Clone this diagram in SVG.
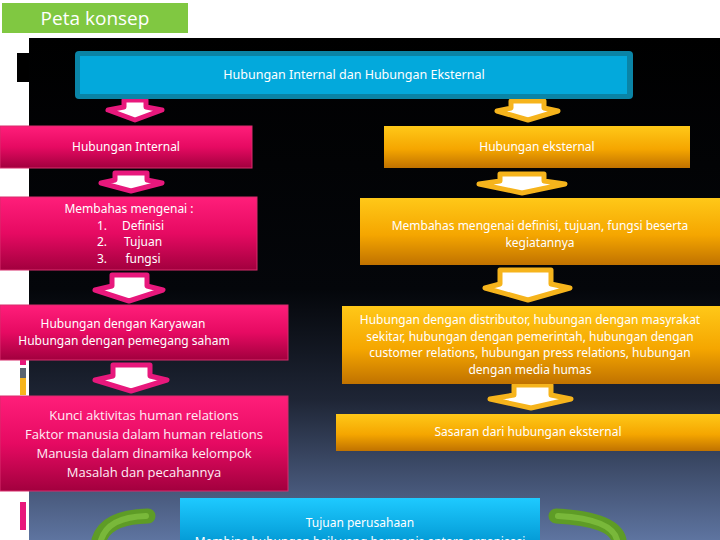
<svg xmlns="http://www.w3.org/2000/svg" width="720" height="540" viewBox="0 0 720 540">
<defs>
<linearGradient id="bg" x1="0" y1="0" x2="0" y2="1">
<stop offset="0" stop-color="#000000"/>
<stop offset="0.5" stop-color="#04060a"/>
<stop offset="0.72" stop-color="#1e2535"/>
<stop offset="1" stop-color="#5e74a0"/>
</linearGradient>
<linearGradient id="pinkG" x1="0" y1="0" x2="0" y2="1">
<stop offset="0" stop-color="#ff1e7a"/>
<stop offset="0.5" stop-color="#e60a62"/>
<stop offset="1" stop-color="#a2003e"/>
</linearGradient>
<linearGradient id="orgG" x1="0" y1="0" x2="0" y2="1">
<stop offset="0" stop-color="#ffc818"/>
<stop offset="0.55" stop-color="#f5a600"/>
<stop offset="1" stop-color="#c07200"/>
</linearGradient>
<linearGradient id="cyanG" x1="0" y1="0" x2="0" y2="1">
<stop offset="0" stop-color="#1ecaff"/>
<stop offset="1" stop-color="#0094d0"/>
</linearGradient>
<style>
.t{font-family:"Noto Sans","DejaVu Sans",sans-serif;font-size:12px;fill:#ffffff;text-anchor:middle}
.t4{font-family:"Open Sans","Noto Sans",sans-serif;font-size:13px;fill:#ffeef6;text-anchor:middle}
.pink{fill:url(#pinkG);stroke:#d82c6c;stroke-width:1}
.org{fill:url(#orgG)}
.pa{fill:#ffffff;stroke:#e8187c;stroke-width:5;stroke-linejoin:round}
.oa{fill:#ffffff;stroke:#f6b41c;stroke-width:5;stroke-linejoin:round}
.curve{fill:none;stroke:#5e9c26;stroke-width:15;stroke-linecap:round}
.curveIn{fill:none;stroke:#79b83a;stroke-width:6;stroke-linecap:round}
</style>
</defs>
<rect x="0" y="0" width="720" height="540" fill="#ffffff"/>
<rect x="29" y="38" width="691" height="502" fill="url(#bg)"/>
<rect x="17" y="53" width="12" height="29" fill="#000000"/>
<rect x="20" y="360" width="6" height="5" fill="#e8187c"/>
<rect x="20" y="368" width="6" height="10" fill="#5a6470"/>
<rect x="20" y="378" width="6" height="17" fill="#f6b41c"/>
<rect x="20" y="502" width="6" height="28" fill="#e8187c"/>

<g id="title-tag">
<rect x="2" y="3" width="186" height="30" fill="#80c841"/>
<text x="95" y="25" style="font-family:'Open Sans','Noto Sans',sans-serif;font-size:19px;fill:#ffffff;text-anchor:middle">Peta konsep</text>
</g>

<g id="connectors">
<polygon class="pa" points="124,100 146,100 146,107 162,110 135,120 108,110 124,107"/>
<polygon class="pa" points="115,173 147,173 147,180 162,183 131,191 101,183 115,180"/>
<polygon class="pa" points="112,275 147,275 147,286 163,290 129,301 95,290 112,286"/>
<polygon class="pa" points="113,365 150,365 150,376 167,380 131,391 95,380 113,376"/>
<polygon class="oa" points="511,101 544,101 544,108 558,111 528,120 497,111 511,108"/>
<polygon class="oa" points="500,174 544,174 544,181 565,184 522,193 479,184 500,181"/>
<polygon class="oa" points="500,270 551,270 551,284 570,288 528,300 485,288 500,284"/>
<polygon class="oa" points="514,385 551,385 551,395 571,399 531,408 490,399 514,395"/>
<path class="curve" d="M148,516 Q106,517 99,540"/>
<path class="curveIn" d="M146,516 Q108,517 101,540"/>
<path class="curve" d="M556,516 Q614,519 619,540"/>
<path class="curveIn" d="M558,516 Q612,519 617,540"/>
</g>

<g id="node-main">
<rect x="75" y="51" width="558" height="48" rx="4" fill="#0a84a6"/>
<rect x="80" y="56" width="547" height="38" fill="#03a9dc"/>
<text class="t" x="354" y="79" style="font-size:12.5px">Hubungan Internal dan Hubungan Eksternal</text>
</g>

<g id="node-internal">
<rect class="pink" x="0" y="126" width="252" height="42"/>
<text class="t" x="126" y="151">Hubungan Internal</text>
</g>

<g id="node-internal-topics">
<rect class="pink" x="0" y="197" width="257" height="73"/>
<text class="t" x="129" y="213">Membahas mengenai :</text>
<text class="t" x="102" y="230">1.</text><text class="t" x="143" y="230">Definisi</text>
<text class="t" x="102" y="246">2.</text><text class="t" x="143" y="246">Tujuan</text>
<text class="t" x="102" y="263">3.</text><text class="t" x="143" y="263">fungsi</text>
</g>

<g id="node-internal-relations">
<rect class="pink" x="0" y="305" width="288" height="55"/>
<text class="t" x="123" y="328">Hubungan dengan Karyawan</text>
<text class="t" x="124" y="345">Hubungan dengan pemegang saham</text>
</g>

<g id="node-internal-keys">
<rect class="pink" x="0" y="396" width="288" height="95"/>
<text class="t4" x="144" y="420">Kunci aktivitas human relations</text>
<text class="t4" x="144" y="439">Faktor manusia dalam human relations</text>
<text class="t4" x="144" y="458">Manusia dalam dinamika kelompok</text>
<text class="t4" x="144" y="477">Masalah dan pecahannya</text>
</g>

<g id="node-external">
<rect class="org" x="384" y="126" width="306" height="42"/>
<text class="t" x="537" y="151">Hubungan eksternal</text>
</g>

<g id="node-external-topics">
<rect class="org" x="360" y="198" width="360" height="67"/>
<text class="t" x="540" y="230">Membahas mengenai definisi, tujuan, fungsi beserta</text>
<text class="t" x="540" y="247">kegiatannya</text>
</g>

<g id="node-external-relations">
<rect class="org" x="342" y="306" width="378" height="78"/>
<text class="t" x="530" y="324">Hubungan dengan distributor, hubungan dengan masyrakat</text>
<text class="t" x="530" y="341">sekitar, hubungan dengan pemerintah, hubungan dengan</text>
<text class="t" x="530" y="357">customer relations, hubungan  press relations, hubungan</text>
<text class="t" x="530" y="374">dengan media humas</text>
</g>

<g id="node-external-target">
<rect class="org" x="336" y="414" width="384" height="37"/>
<text class="t" x="528" y="436">Sasaran dari hubungan eksternal</text>
</g>

<g id="node-goal">
<rect x="180" y="498" width="360" height="50" fill="url(#cyanG)"/>
<text class="t" x="360" y="527">Tujuan perusahaan</text>
<text class="t" x="360" y="546">Membina hubungan baik yang harmonis antara organisasi</text>
</g>
</svg>
